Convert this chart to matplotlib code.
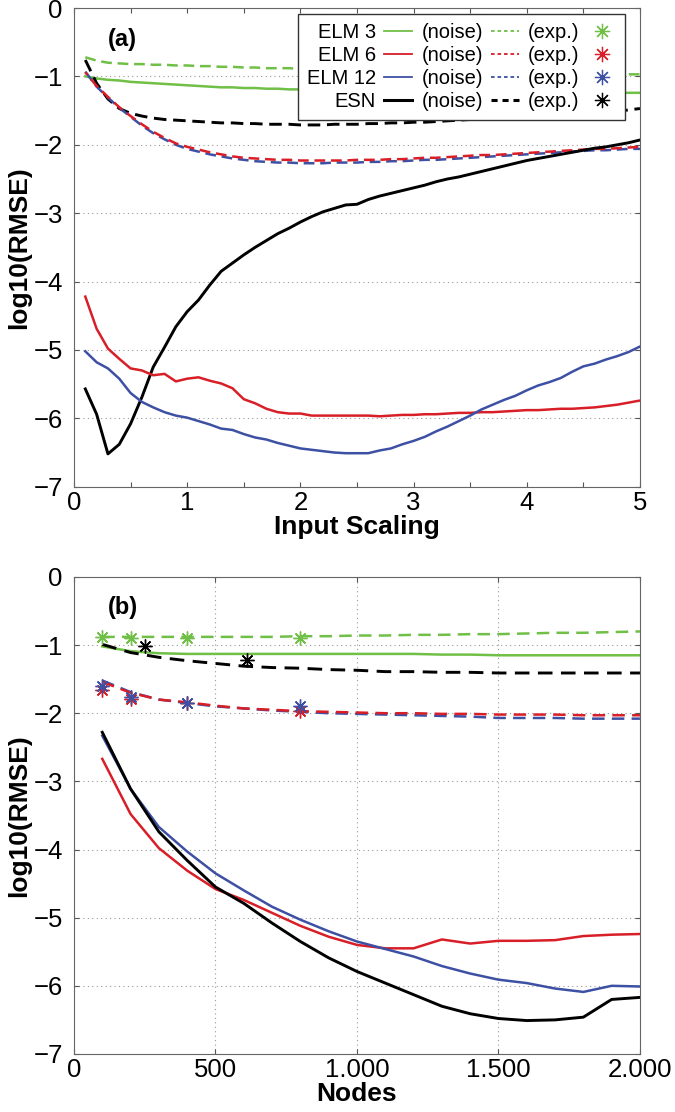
import numpy as np
import matplotlib.pyplot as plt
from matplotlib.lines import Line2D
from matplotlib.ticker import MultipleLocator, FuncFormatter

plt.rcParams['font.family'] = ['Liberation Sans', 'DejaVu Sans']

# colours
c_green = '#70bf46'
c_red = '#d81e27'
c_blue = '#3d50a4'
c_black = '#000000'

# ---- panel (a): input scaling ----
scaling = np.round(np.arange(0.1, 5.01, 0.1), 1)

a_elm3_noise = [-1.00, -1.03, -1.05, -1.06, -1.08, -1.09, -1.10, -1.11, -1.12, -1.13,
                -1.14, -1.15, -1.16, -1.16, -1.17, -1.17, -1.18, -1.18, -1.19, -1.19,
                -1.19, -1.19, -1.20, -1.20, -1.20, -1.20, -1.20, -1.21, -1.21, -1.21,
                -1.21, -1.21, -1.21, -1.22, -1.22, -1.22, -1.22, -1.22, -1.22, -1.22,
                -1.23, -1.23, -1.23, -1.23, -1.23, -1.23, -1.23, -1.24, -1.24, -1.24]
a_elm3_exp = [-0.72, -0.77, -0.80, -0.81, -0.82, -0.82, -0.83, -0.83, -0.84, -0.84,
              -0.85, -0.85, -0.86, -0.86, -0.87, -0.87, -0.88, -0.88, -0.88, -0.89,
              -0.89, -0.89, -0.90, -0.90, -0.90, -0.90, -0.91, -0.91, -0.91, -0.91,
              -0.92, -0.92, -0.92, -0.92, -0.93, -0.93, -0.93, -0.93, -0.94, -0.94,
              -0.94, -0.95, -0.95, -0.95, -0.96, -0.96, -0.96, -0.97, -0.97, -0.97]
a_elm6_exp = [-0.94, -1.14, -1.30, -1.45, -1.58, -1.70, -1.81, -1.90, -1.98, -2.03,
              -2.07, -2.11, -2.14, -2.17, -2.19, -2.20, -2.21, -2.22, -2.22, -2.23,
              -2.23, -2.23, -2.23, -2.23, -2.22, -2.22, -2.22, -2.21, -2.21, -2.20,
              -2.19, -2.19, -2.18, -2.17, -2.16, -2.15, -2.15, -2.14, -2.13, -2.12,
              -2.11, -2.10, -2.09, -2.08, -2.07, -2.06, -2.06, -2.05, -2.04, -2.03]
a_elm12_exp = [-0.93, -1.15, -1.31, -1.46, -1.59, -1.72, -1.83, -1.92, -2.00, -2.06,
               -2.10, -2.14, -2.17, -2.20, -2.22, -2.24, -2.25, -2.26, -2.26, -2.27,
               -2.27, -2.27, -2.26, -2.26, -2.26, -2.25, -2.25, -2.24, -2.24, -2.23,
               -2.22, -2.22, -2.21, -2.20, -2.19, -2.18, -2.17, -2.16, -2.15, -2.14,
               -2.13, -2.12, -2.11, -2.10, -2.09, -2.08, -2.08, -2.07, -2.06, -2.06]
a_esn_exp = [-0.76, -1.10, -1.33, -1.47, -1.54, -1.58, -1.61, -1.63, -1.64, -1.65,
             -1.66, -1.67, -1.68, -1.68, -1.69, -1.69, -1.70, -1.70, -1.70, -1.71,
             -1.71, -1.71, -1.70, -1.70, -1.70, -1.69, -1.69, -1.68, -1.68, -1.67,
             -1.67, -1.66, -1.65, -1.64, -1.63, -1.62, -1.62, -1.61, -1.60, -1.59,
             -1.58, -1.57, -1.56, -1.55, -1.54, -1.53, -1.52, -1.51, -1.49, -1.47]
a_elm6_noise = [-4.22, -4.69, -4.98, -5.13, -5.27, -5.30, -5.37, -5.35, -5.46, -5.42,
                -5.40, -5.45, -5.49, -5.56, -5.72, -5.78, -5.86, -5.91, -5.93, -5.93,
                -5.96, -5.96, -5.96, -5.96, -5.96, -5.96, -5.97, -5.96, -5.95, -5.95,
                -5.94, -5.94, -5.93, -5.92, -5.92, -5.91, -5.91, -5.90, -5.89, -5.88,
                -5.88, -5.87, -5.86, -5.86, -5.85, -5.84, -5.82, -5.80, -5.77, -5.74]
a_elm12_noise = [-5.02, -5.18, -5.27, -5.42, -5.63, -5.76, -5.84, -5.91, -5.96, -5.99,
                 -6.04, -6.09, -6.15, -6.17, -6.23, -6.28, -6.31, -6.36, -6.40, -6.44,
                 -6.46, -6.48, -6.50, -6.51, -6.51, -6.51, -6.47, -6.44, -6.38, -6.33,
                 -6.27, -6.19, -6.12, -6.04, -5.96, -5.87, -5.80, -5.73, -5.67, -5.59,
                 -5.52, -5.47, -5.41, -5.32, -5.24, -5.20, -5.14, -5.09, -5.03, -4.95]
a_esn_noise = [-5.57, -5.94, -6.52, -6.38, -6.08, -5.69, -5.25, -4.96, -4.66, -4.44,
               -4.27, -4.05, -3.85, -3.73, -3.61, -3.50, -3.40, -3.30, -3.22, -3.13,
               -3.05, -2.98, -2.93, -2.88, -2.87, -2.80, -2.75, -2.71, -2.67, -2.63,
               -2.59, -2.54, -2.50, -2.47, -2.43, -2.39, -2.35, -2.31, -2.27, -2.23,
               -2.20, -2.17, -2.14, -2.11, -2.08, -2.05, -2.03, -2.00, -1.97, -1.93]

# ---- panel (b): nodes ----
nodes = np.arange(100, 2001, 100)

b_elm3_noise = [-1.02, -1.09, -1.12, -1.13, -1.13, -1.13, -1.13, -1.13, -1.13, -1.13,
                -1.13, -1.13, -1.14, -1.14, -1.15, -1.15, -1.15, -1.15, -1.15, -1.15]
b_elm3_exp = [-0.88, -0.88, -0.88, -0.88, -0.88, -0.88, -0.88, -0.87, -0.87, -0.86,
              -0.86, -0.85, -0.85, -0.84, -0.84, -0.83, -0.82, -0.82, -0.81, -0.80]
b_esn_exp = [-0.99, -1.11, -1.18, -1.23, -1.27, -1.31, -1.33, -1.34, -1.36, -1.37,
             -1.39, -1.39, -1.40, -1.40, -1.41, -1.41, -1.41, -1.41, -1.41, -1.41]
b_elm6_exp = [-1.54, -1.70, -1.80, -1.84, -1.89, -1.93, -1.95, -1.97, -1.98, -1.99,
              -2.00, -2.00, -2.01, -2.01, -2.02, -2.02, -2.02, -2.03, -2.03, -2.03]
b_elm12_exp = [-1.52, -1.69, -1.80, -1.85, -1.90, -1.93, -1.96, -1.98, -2.00, -2.01,
               -2.02, -2.03, -2.04, -2.05, -2.07, -2.07, -2.07, -2.08, -2.08, -2.08]
b_elm6_noise = [-2.67, -3.48, -3.98, -4.31, -4.58, -4.74, -4.93, -5.12, -5.28, -5.40,
                -5.45, -5.45, -5.32, -5.38, -5.34, -5.34, -5.33, -5.27, -5.25, -5.24]
b_elm12_noise = [-2.33, -3.11, -3.67, -4.03, -4.35, -4.60, -4.84, -5.03, -5.20, -5.35,
                 -5.46, -5.57, -5.71, -5.82, -5.91, -5.96, -6.04, -6.09, -6.00, -6.01]
b_esn_noise = [-2.28, -3.11, -3.74, -4.16, -4.55, -4.79, -5.08, -5.35, -5.59, -5.79,
               -5.96, -6.13, -6.30, -6.41, -6.48, -6.51, -6.50, -6.46, -6.20, -6.17]

# experimental points (stars)
star_elm_nodes = [100, 200, 400, 800]
star_elm3 = [-0.88, -0.89, -0.89, -0.90]
star_elm6 = [-1.66, -1.79, -1.85, -1.97]
star_elm12 = [-1.60, -1.76, -1.85, -1.90]
star_esn_nodes = [250, 610]
star_esn = [-1.02, -1.22]

star = (8, 2, 0)
lw = 1.8
lwk = 2.1
dash_a = (0, (4.3, 2.3))
dash_b = (0, (5.0, 2.9))

fig = plt.figure(figsize=(6.75, 11.12), dpi=100)
ax1 = fig.add_axes([0.1096, 0.5623, 0.8385, 0.4305])
ax2 = fig.add_axes([0.1096, 0.0522, 0.8385, 0.4290])

# panel (a)
ax1.plot(scaling, a_elm3_exp, color=c_green, lw=lw, ls=dash_a)
ax1.plot(scaling, a_elm3_noise, color=c_green, lw=lw)
ax1.plot(scaling, a_esn_exp, color=c_black, lw=lwk, ls=dash_a)
ax1.plot(scaling, a_elm12_exp, color=c_blue, lw=lw, ls=dash_a)
ax1.plot(scaling, a_elm6_exp, color=c_red, lw=lw, ls=(3, (4.3, 2.3)))
ax1.plot(scaling, a_esn_noise, color=c_black, lw=lwk)
ax1.plot(scaling, a_elm6_noise, color=c_red, lw=lw)
ax1.plot(scaling, a_elm12_noise, color=c_blue, lw=lw)

# panel (b)
ax2.plot(nodes, b_elm3_exp, color=c_green, lw=lw, ls=dash_b)
ax2.plot(nodes, b_elm3_noise, color=c_green, lw=lw)
ax2.plot(nodes, b_esn_exp, color=c_black, lw=lwk, ls=dash_b)
ax2.plot(nodes, b_elm12_exp, color=c_blue, lw=lw, ls=dash_b)
ax2.plot(nodes, b_elm6_exp, color=c_red, lw=lw, ls=dash_b)
ax2.plot(nodes, b_elm6_noise, color=c_red, lw=lw)
ax2.plot(nodes, b_elm12_noise, color=c_blue, lw=lw)
ax2.plot(nodes, b_esn_noise, color=c_black, lw=lwk)
ax2.plot(star_elm_nodes, star_elm3, ls='none', marker=star, ms=10, mec=c_green, mew=1)
ax2.plot(star_elm_nodes, star_elm6, ls='none', marker=star, ms=10, mec=c_red, mew=1)
ax2.plot(star_elm_nodes, star_elm12, ls='none', marker=star, ms=10, mec=c_blue, mew=1)
ax2.plot(star_esn_nodes, star_esn, ls='none', marker=star, ms=10, mec=c_black, mew=1)

for ax in (ax1, ax2):
    ax.set_ylim(-7, 0)
    ax.set_yticks(np.arange(-7, 1, 1))
    ax.tick_params(direction='in', top=True, right=True, labelsize=18.5,
                   length=3.8, color='#555555')
    ax.tick_params(axis='x', pad=3)
    ax.tick_params(axis='y', pad=8)
    for s in ax.spines.values():
        s.set_color('#666666')
    ax.set_ylabel('log10(RMSE)', fontsize=19, fontweight='bold', labelpad=2)

ax1.set_xlim(0, 5)
ax1.xaxis.set_major_locator(MultipleLocator(0.5))
ax1.xaxis.set_major_formatter(FuncFormatter(lambda v, p: '%d' % v if abs(v - round(v)) < 1e-6 else ''))
ax1.yaxis.grid(True, ls=(0, (1, 3)), color='#999999', lw=0.8)
ax1.set_xlabel('Input Scaling', fontsize=19, fontweight='bold', labelpad=0)
ax1.text(0.06, 0.935, '(a)', transform=ax1.transAxes, fontsize=17, fontweight='bold',
         va='center', ha='left')

ax2.set_xlim(0, 2000)
ax2.set_xticks([0, 500, 1000, 1500, 2000])
ax2.set_xticklabels(['0', '500', '1.000', '1.500', '2.000'])
ax2.grid(True, ls=(0, (1, 3)), color='#999999', lw=0.8)
ax2.set_xlabel('Nodes', fontsize=19, fontweight='bold', labelpad=0)
ax2.text(0.06, 0.935, '(b)', transform=ax2.transAxes, fontsize=17, fontweight='bold',
         va='center', ha='left')

# legend: name + solid line, "(noise)" + dashed line, "(exp.)" + star
names = ['ELM 3', 'ELM 6', 'ELM 12', 'ESN']
cols = [c_green, c_red, c_blue, c_black]
handles, labels = [], []
for n, c in zip(names, cols):
    handles.append(Line2D([], [], color=c, lw=1.3 if c != c_black else 2.2))
    labels.append(n)
for n, c in zip(names, cols):
    handles.append(Line2D([], [], color=c, lw=1.3 if c != c_black else 2.2, ls=(0, (2, 1.6))))
    labels.append('(noise)')
for n, c in zip(names, cols):
    handles.append(Line2D([], [], ls='none', marker=star, ms=11, mec=c, mew=0.9))
    labels.append('(exp.)')
leg = ax1.legend(handles, labels, ncol=3, loc='upper right', bbox_to_anchor=(0.9735, 0.9875),
                 markerfirst=False, fontsize=14.5, handlelength=1.4, handletextpad=0.4,
                 columnspacing=0.45, labelspacing=0.2, borderpad=0.45, borderaxespad=0,
                 fancybox=False, framealpha=1, edgecolor='#333333')
leg.get_frame().set_linewidth(1.0)

fig.savefig('out.png', dpi=100)
